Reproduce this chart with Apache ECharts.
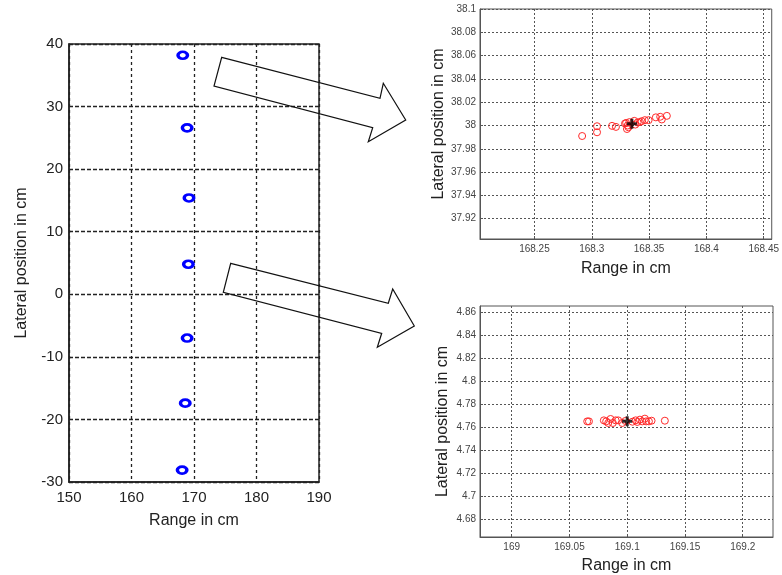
<!DOCTYPE html>
<html>
<head>
<meta charset="utf-8">
<script src="https://cdn.jsdelivr.net/npm/echarts@6.0.0/dist/echarts.min.js"></script>
<style>
  html, body { margin: 0; padding: 0; background: #fff; }
  #chart { width: 782px; height: 575px; }
</style>
</head>
<body>
<div id="chart"></div>
<script>
// ---- Data ----
// Left overview: cluster centres of the seven targets
var overviewRange   = [168.2, 168.9, 169.2, 169.1, 168.9, 168.6, 168.1];
var overviewLateral = [38.2, 26.6, 15.4, 4.8, -7.0, -17.4, -28.1];
var overviewXTicks  = [150, 160, 170, 180, 190];
var overviewYTicks  = [-30, -20, -10, 0, 10, 20, 30, 40];

// Top-right zoom (target near 38 cm)
var topRange   = [168.2916, 168.3046, 168.3046, 168.3177, 168.3211, 168.3290, 168.3313, 168.3307,
                  168.3328, 168.3371, 168.3400, 168.3435, 168.3463, 168.3496, 168.3559, 168.3597,
                  168.3611, 168.3655, 168.3300, 168.3320, 168.3380, 168.3420];
var topLateral = [37.9910, 37.9994, 37.9942, 37.9997, 37.9988, 38.0017, 38.0000, 37.9970,
                  38.0029, 38.0040, 38.0026, 38.0037, 38.0046, 38.0046, 38.0070, 38.0075,
                  38.0052, 38.0083, 38.0022, 37.9985, 38.0008, 38.0030];
var topMean    = [168.335, 38.0015];
var topXTicks  = [168.25, 168.3, 168.35, 168.4, 168.45];
var topYTicks  = [37.92, 37.94, 37.96, 37.98, 38, 38.02, 38.04, 38.06, 38.08, 38.1];

// Bottom-right zoom (target near 4.76 cm)
var botRange   = [169.0654, 169.0669, 169.0798, 169.0818, 169.0836, 169.0856, 169.0876, 169.0900,
                  169.0922, 169.0957, 169.1073, 169.1087, 169.1110, 169.1130, 169.1153, 169.1164,
                  169.1188, 169.1211, 169.1326, 169.0985, 169.1045];
var botLateral = [4.7648, 4.7648, 4.7657, 4.7648, 4.7634, 4.7669, 4.7634, 4.7657,
                  4.7657, 4.7634, 4.7657, 4.7643, 4.7663, 4.7648, 4.7672, 4.7648,
                  4.7648, 4.7654, 4.7654, 4.7652, 4.7645];
var botMean    = [169.1, 4.765];
var botXTicks  = [169, 169.05, 169.1, 169.15, 169.2];
var botYTicks  = [4.68, 4.7, 4.72, 4.74, 4.76, 4.78, 4.8, 4.82, 4.84, 4.86];

var xTitle = 'Range in cm';
var yTitle = 'Lateral position in cm';

// ---- helpers ----
function zip(a, b) { return a.map(function (v, i) { return [v, b[i]]; }); }
var FONT = 'Arial, "Liberation Sans", sans-serif';
var plusPath = 'path://M3.5,0H6.5V3.5H10V6.5H6.5V10H3.5V6.5H0V3.5H3.5Z';

function zoomAxis(idx, min, max, ticks, isY, nameGap) {
  return {
    type: 'value', gridIndex: idx, min: min, max: max,
    name: isY ? yTitle : xTitle, nameLocation: 'middle', nameGap: nameGap,
    nameTextStyle: { fontFamily: FONT, fontSize: 16, color: '#222' },
    axisLine: { show: true, onZero: false, lineStyle: { color: '#555', width: 1 } },
    axisTick: { show: true, inside: true, length: 3, customValues: ticks, lineStyle: { color: '#555' } },
    axisLabel: { customValues: ticks, fontFamily: FONT, fontSize: 10, color: '#444', margin: isY ? 4 : 5 },
    splitLine: { show: true, lineStyle: { color: '#555', width: 1, type: [2, 2] } }
  };
}

var chart = echarts.init(document.getElementById('chart'), null, { renderer: 'canvas' });

var option = {
  animation: false,
  backgroundColor: '#fff',
  grid: [
    { left: 69, top: 44, width: 250, height: 438, show: true, borderColor: '#222', borderWidth: 1.5, backgroundColor: 'transparent' },
    { left: 480, top: 9, width: 293, height: 230, show: true, borderColor: '#555', borderWidth: 1, backgroundColor: 'transparent' },
    { left: 480, top: 306, width: 293, height: 232, show: true, borderColor: '#555', borderWidth: 1, backgroundColor: 'transparent' }
  ],
  xAxis: [
    {
      type: 'value', gridIndex: 0, min: overviewXTicks[0], max: overviewXTicks[overviewXTicks.length - 1], interval: 10,
      name: xTitle, nameLocation: 'middle', nameGap: 31,
      nameTextStyle: { fontFamily: FONT, fontSize: 16, color: '#222' },
      axisLine: { show: true, onZero: false, lineStyle: { color: '#222', width: 1.5 } },
      axisTick: { show: false },
      axisLabel: { fontFamily: FONT, fontSize: 15, color: '#222', margin: 8 },
      splitLine: { show: true, lineStyle: { color: '#222', width: 1.3, type: [3, 3] } }
    },
    zoomAxis(1, 168.2025, 168.457, topXTicks, false, 22),
    zoomAxis(2, 168.9726, 169.2262, botXTicks, false, 21)
  ],
  yAxis: [
    {
      type: 'value', gridIndex: 0, min: overviewYTicks[0], max: overviewYTicks[overviewYTicks.length - 1], interval: 10,
      name: yTitle, nameLocation: 'middle', nameGap: 39,
      nameTextStyle: { fontFamily: FONT, fontSize: 16, color: '#222' },
      axisLine: { show: true, onZero: false, lineStyle: { color: '#222', width: 1.5 } },
      axisTick: { show: false },
      axisLabel: { fontFamily: FONT, fontSize: 15, color: '#222', margin: 6 },
      splitLine: { show: true, lineStyle: { color: '#222', width: 1.3, type: [4, 2] } }
    },
    zoomAxis(1, 37.9026, 38.1, topYTicks, true, 30),
    zoomAxis(2, 4.6642, 4.8652, botYTicks, true, 29)
  ],
  series: [
    {
      type: 'scatter', xAxisIndex: 0, yAxisIndex: 0,
      data: zip(overviewRange, overviewLateral),
      symbol: 'circle', symbolSize: [9.5, 7],
      itemStyle: { color: 'rgba(0,0,0,0)', borderColor: '#0000ff', borderWidth: 3, opacity: 1 }
    },
    {
      type: 'scatter', xAxisIndex: 1, yAxisIndex: 1,
      data: zip(topRange, topLateral),
      symbol: 'circle', symbolSize: 7,
      itemStyle: { color: 'rgba(0,0,0,0)', borderColor: '#ff2a2a', borderWidth: 1, opacity: 1 }
    },
    {
      type: 'scatter', xAxisIndex: 1, yAxisIndex: 1,
      data: [topMean], symbol: plusPath, symbolSize: 10, z: 5,
      itemStyle: { color: '#000' }
    },
    {
      type: 'scatter', xAxisIndex: 2, yAxisIndex: 2,
      data: zip(botRange, botLateral),
      symbol: 'circle', symbolSize: 7,
      itemStyle: { color: 'rgba(0,0,0,0)', borderColor: '#ff2a2a', borderWidth: 1, opacity: 1 }
    },
    {
      type: 'scatter', xAxisIndex: 2, yAxisIndex: 2,
      data: [botMean], symbol: plusPath, symbolSize: 10, z: 5,
      itemStyle: { color: '#000' }
    }
  ],
  graphic: [
    {
      type: 'polygon', z: 100, silent: true,
      shape: { points: [[221.7, 57.3], [380, 98.3], [383.3, 83.3], [405.7, 120], [368.3, 141.7], [372.7, 127.7], [214, 86]] },
      style: { fill: 'none', stroke: '#111', lineWidth: 1.2 }
    },
    {
      type: 'polygon', z: 100, silent: true,
      shape: { points: [[230.7, 263.3], [388.3, 303.3], [392.7, 289], [414.3, 326], [377.3, 347.3], [381.7, 333.3], [223.3, 292.3]] },
      style: { fill: 'none', stroke: '#111', lineWidth: 1.2 }
    }
  ]
};
chart.setOption(option);
</script>
</body>
</html>
